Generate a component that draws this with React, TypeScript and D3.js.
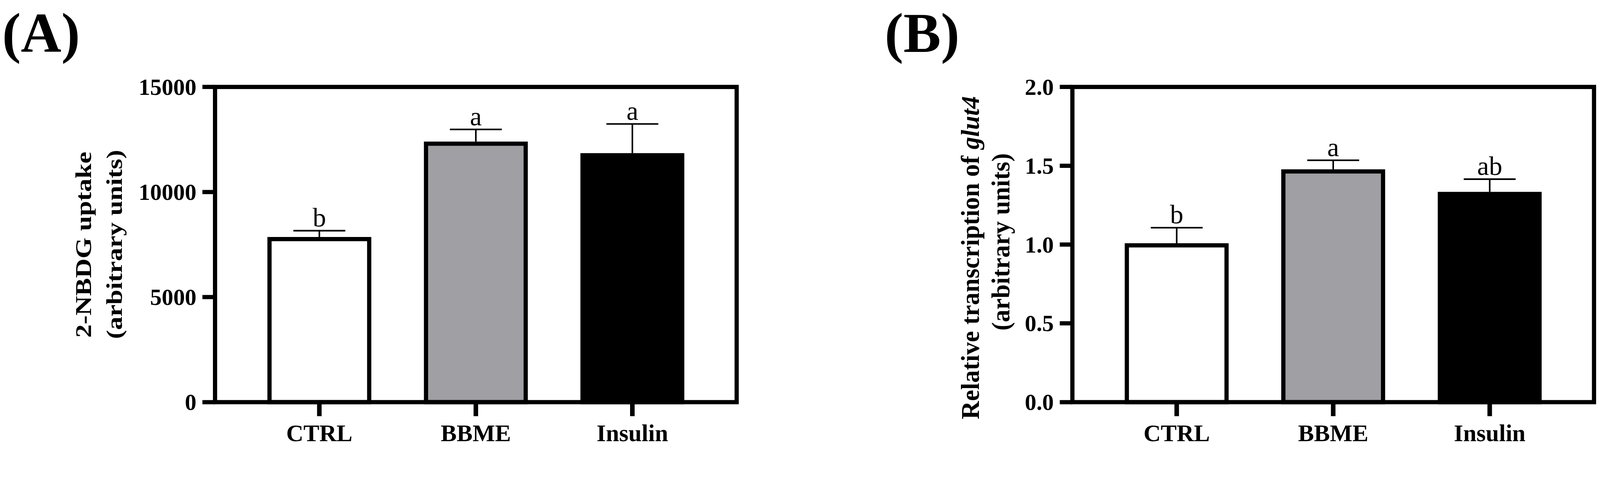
import React from 'react'
import * as d3 from 'd3'

// group names and values
const categories = ['CTRL', 'BBME', 'Insulin']
const barFills = ['#ffffff', '#a0a0a4', '#000000']

const uptakeMean = [7760, 12300, 11750]
const uptakeSem = [400, 680, 1490]
const uptakeLetters = ['b', 'a', 'a']
const uptakeTicks = [0, 5000, 10000, 15000]

const glutMean = [0.995, 1.464, 1.321]
const glutSem = [0.112, 0.071, 0.094]
const glutLetters = ['b', 'a', 'ab']
const glutTicks = [0, 0.5, 1.0, 1.5, 2.0]

const W = 4561
const H = 1273
const FONT = '"Liberation Serif", "Times New Roman", serif'

const TOP = 248
const BOTTOM = 1147
const FRAME_W = 1487

interface PanelProps {
  left: number
  tag: string
  tagX: number
  ticks: number[]
  fmt: (v: number) => string
  means: number[]
  sems: number[]
  letters: string[]
  title: React.ReactNode[]
  titleX: number[]
  titleY: number[]
  titleScale: number
  titleSize: number
}

const Panel: React.FC<PanelProps> = p => {
  const x = d3
    .scaleBand<string>()
    .domain(categories)
    .range([p.left, p.left + FRAME_W])
    .paddingInner(0.363)
    .paddingOuter(0.348)
  const y = d3
    .scaleLinear()
    .domain([0, p.ticks[p.ticks.length - 1]])
    .range([BOTTOM, TOP])
  const bw = x.bandwidth()

  return (
    <g>
      <text x={p.tagX} y={148} fontFamily={FONT} fontWeight="bold" fontSize={160}>
        {p.tag}
      </text>

      {/* y title, rotated */}
      {p.title.map((t, i) => (
        <text
          key={i}
          transform={`translate(${p.titleX[i]},${p.titleY[i]}) rotate(-90) scale(${p.titleScale},1)`}
          textAnchor="middle"
          fontFamily={FONT}
          fontWeight="bold"
          fontSize={p.titleSize}
        >
          {t}
        </text>
      ))}

      {/* bars */}
      {categories.map((c, i) => (
        <rect
          key={c}
          x={x(c)}
          y={y(p.means[i])}
          width={bw}
          height={BOTTOM - y(p.means[i])}
          fill={barFills[i]}
          stroke="#000"
          strokeWidth={12}
        />
      ))}

      {/* error bars (upper only) + letters */}
      {categories.map((c, i) => {
        const cx = (x(c) as number) + bw / 2
        const top = y(p.means[i] + p.sems[i])
        return (
          <g key={c}>
            <line x1={cx} x2={cx} y1={y(p.means[i]) - 6} y2={top} stroke="#000" strokeWidth={4.5} />
            <line x1={cx - 74} x2={cx + 74} y1={top} y2={top} stroke="#000" strokeWidth={4.5} />
            <text x={cx} y={top - 12} textAnchor="middle" fontFamily={FONT} fontSize={76}>
              {p.letters[i]}
            </text>
          </g>
        )
      })}

      {/* frame */}
      <rect
        x={p.left}
        y={TOP}
        width={FRAME_W}
        height={BOTTOM - TOP}
        fill="none"
        stroke="#000"
        strokeWidth={12}
      />

      {/* y ticks */}
      {p.ticks.map(t => (
        <g key={t}>
          <line x1={p.left - 36} x2={p.left} y1={y(t)} y2={y(t)} stroke="#000" strokeWidth={12} />
          <text
            x={p.left - 53}
            y={y(t)}
            dy="0.34em"
            textAnchor="end"
            fontFamily={FONT}
            fontWeight="bold"
            fontSize={66}
          >
            {p.fmt(t)}
          </text>
        </g>
      ))}

      {/* x ticks */}
      {categories.map(c => {
        const cx = (x(c) as number) + bw / 2
        return (
          <g key={c}>
            <line x1={cx} x2={cx} y1={BOTTOM} y2={BOTTOM + 40} stroke="#000" strokeWidth={13} />
            <text x={cx} y={1258} textAnchor="middle" fontFamily={FONT} fontWeight="bold" fontSize={68}>
              {c}
            </text>
          </g>
        )
      })}
    </g>
  )
}

const App: React.FC = () => {
  return (
    <svg
      viewBox={`0 0 ${W} ${H}`}
      preserveAspectRatio="xMinYMin meet"
      style={{ position: 'absolute', left: 0, top: 0, width: '100vw', height: 'auto', display: 'block' }}
    >
      <rect width={W} height={H} fill="#fff" />
      <Panel
        left={613}
        tag="(A)"
        tagX={6}
        ticks={uptakeTicks}
        fmt={d3.format('d')}
        means={uptakeMean}
        sems={uptakeSem}
        letters={uptakeLetters}
        title={['2-NBDG uptake', '(arbitrary units)']}
        titleX={[260, 347]}
        titleY={[698, 697]}
        titleScale={1.2}
        titleSize={64}
      />
      <Panel
        left={3057}
        tag="(B)"
        tagX={2522}
        ticks={glutTicks}
        fmt={d3.format('.1f')}
        means={glutMean}
        sems={glutSem}
        letters={glutLetters}
        title={[
          <>
            Relative transcription of <tspan fontStyle="italic">glut4</tspan>
          </>,
          '(arbitrary units)',
        ]}
        titleX={[2790, 2877]}
        titleY={[735, 690]}
        titleScale={1}
        titleSize={72}
      />
    </svg>
  )
}

export default App
